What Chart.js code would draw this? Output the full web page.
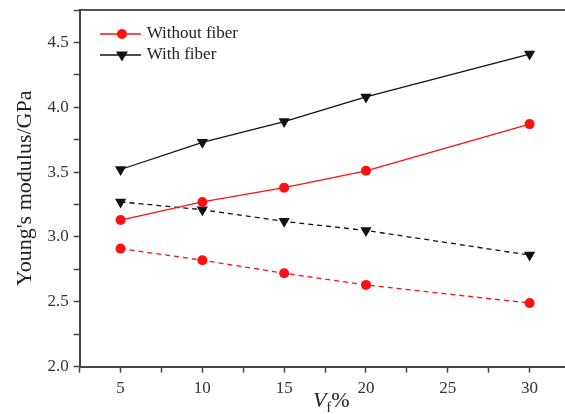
<!DOCTYPE html>
<html>
<head>
<meta charset="utf-8">
<script src="https://cdn.jsdelivr.net/npm/chart.js@4"></script>
<style>
  html, body { margin: 0; padding: 0; background: #fff; overflow: hidden; width: 565px; height: 414px; }
  #wrap { position: relative; width: 577px; height: 414px; }
  #xTitle {
    position: absolute; left: 313px; top: 389px;
    font-family: 'Liberation Serif', serif; font-size: 22px; line-height: 22px; color: #222;
    white-space: nowrap;
  }
  #xTitle sub { font-size: 14px; }
</style>
</head>
<body>
<div id="wrap">
  <canvas id="myChart" width="577" height="414"></canvas>
  <div id="xTitle"><i>V</i><sub>f</sub>%</div>
</div>
<script>
/* data */
const fiberContent = [5, 10, 15, 20, 30];
const withoutFiber = [3.13, 3.27, 3.38, 3.51, 3.87];
const withFiber = [3.52, 3.73, 3.89, 4.08, 4.41];
const withFiberDash = [3.27, 3.21, 3.12, 3.05, 2.86];
const withoutFiberDash = [2.91, 2.82, 2.72, 2.63, 2.49];
const seriesNames = ['Without fiber', 'With fiber'];

const RED = '#ff1010';
const BLACK = '#111111';
const AXIS = '#444444';
const serif = "'Liberation Serif', 'Times New Roman', serif";

function toPoints(ys) {
    return fiberContent.map((x, i) => ({ x: x, y: ys[i] }));
}

// legend icon: short line with marker in the middle (Origin style)
function makeIcon(color, marker) {
    const c = document.createElement('canvas');
    c.width = 62;
    c.height = 16;
    const g = c.getContext('2d');
    g.strokeStyle = color;
    g.lineWidth = 1.3;
    g.beginPath();
    g.moveTo(20, 8);
    g.lineTo(61, 8);
    g.stroke();
    g.fillStyle = color;
    g.beginPath();
    if (marker === 'circle') {
        g.arc(42, 8, 5, 0, Math.PI * 2);
    } else {
        g.moveTo(36, 4.5);
        g.lineTo(48, 4.5);
        g.lineTo(42, 14.5);
        g.closePath();
    }
    g.fill();
    return c;
}
const legendIcons = [makeIcon(RED, 'circle'), makeIcon(BLACK, 'triangle')];

const ctx = document.getElementById('myChart').getContext('2d');

const myChart = new Chart(ctx, {
    type: 'line',
    data: {
        datasets: [
            {
                label: seriesNames[0],
                data: toPoints(withoutFiber),
                borderColor: RED,
                backgroundColor: RED,
                borderWidth: 1.3,
                pointStyle: 'circle',
                pointRadius: 5,
                pointBorderWidth: 0,
                tension: 0
            },
            {
                label: seriesNames[1],
                data: toPoints(withFiber),
                borderColor: BLACK,
                backgroundColor: BLACK,
                borderWidth: 1.3,
                pointStyle: 'triangle',
                pointRotation: 180,
                pointRadius: 6.5,
                pointBorderWidth: 0,
                tension: 0
            },
            {
                label: 'with fiber (dash)',
                data: toPoints(withFiberDash),
                borderColor: BLACK,
                backgroundColor: BLACK,
                borderWidth: 1.3,
                borderDash: [5, 4],
                pointStyle: 'triangle',
                pointRotation: 180,
                pointRadius: 6.5,
                pointBorderWidth: 0,
                tension: 0
            },
            {
                label: 'without fiber (dash)',
                data: toPoints(withoutFiberDash),
                borderColor: RED,
                backgroundColor: RED,
                borderWidth: 1.3,
                borderDash: [5, 4],
                pointStyle: 'circle',
                pointRadius: 5,
                pointBorderWidth: 0,
                tension: 0
            }
        ]
    },
    options: {
        responsive: false,
        animation: false,
        layout: {
            padding: { left: 7, top: 10, right: 2, bottom: 9 }
        },
        scales: {
            x: {
                type: 'linear',
                position: 'bottom',
                min: 2.5,
                max: 32.5,
                afterFit: scale => { scale.paddingRight = 0; },
                grid: {
                    drawOnChartArea: false,
                    drawTicks: true,
                    tickLength: 6,
                    tickColor: AXIS,
                    tickWidth: 1.5
                },
                border: { color: AXIS, width: 2 },
                ticks: {
                    stepSize: 2.5,
                    autoSkip: false,
                    maxRotation: 0,
                    padding: 6,
                    color: '#333',
                    font: { family: serif, size: 17 },
                    callback: v => (v % 5 === 0 ? v : '')
                }
            },
            xTop: {
                type: 'linear',
                position: 'top',
                grid: { display: false, drawTicks: false },
                ticks: { display: false },
                border: { display: true, color: '#555', width: 2 }
            },
            y: {
                min: 2.0,
                max: 4.75,
                afterFit: scale => { scale.paddingTop = 0; },
                grid: {
                    drawOnChartArea: false,
                    drawTicks: true,
                    tickLength: 6,
                    tickColor: AXIS,
                    tickWidth: 1.5
                },
                border: { color: AXIS, width: 2 },
                ticks: {
                    stepSize: 0.25,
                    autoSkip: false,
                    padding: 5,
                    color: '#333',
                    font: { family: serif, size: 17 },
                    callback: v => (Math.abs(v * 2 - Math.round(v * 2)) < 1e-6 ? v.toFixed(1) : '')
                },
                title: {
                    display: true,
                    text: "Young's modulus/GPa",
                    color: '#222',
                    font: { family: serif, size: 22 },
                    padding: { top: 5, bottom: 4 }
                }
            }
        },
        plugins: {
            legend: {
                position: 'chartArea',
                align: 'start',
                title: {
                    display: true,
                    text: '',
                    font: { size: 1 },
                    padding: { top: 20.3, bottom: 0 }
                },
                labels: {
                    usePointStyle: true,
                    pointStyleWidth: 54.5,
                    padding: 4,
                    color: '#222',
                    font: { family: serif, size: 17 },
                    filter: item => item.datasetIndex < 2,
                    generateLabels: function (chart) {
                        const items = Chart.defaults.plugins.legend.labels.generateLabels(chart);
                        items.forEach(it => {
                            it.pointStyle = legendIcons[it.datasetIndex] || it.pointStyle;
                            it.rotation = 0;
                        });
                        return items;
                    }
                }
            },
            tooltip: { enabled: false }
        }
    }
});
</script>
</body>
</html>
